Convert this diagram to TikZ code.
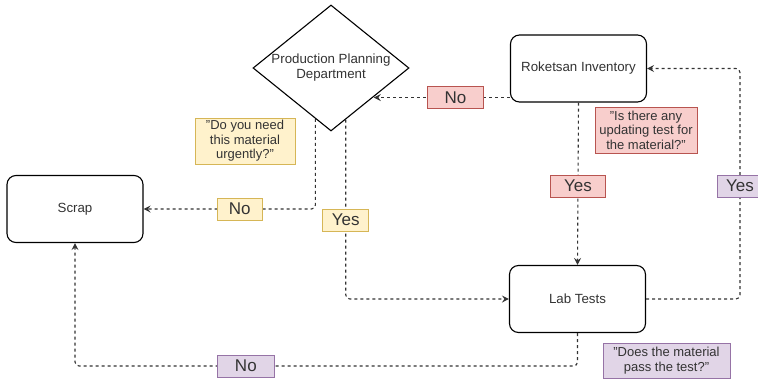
\documentclass[tikz,border=0pt]{standalone}
\usepackage{fontspec}
\setmainfont{Liberation Sans}
\usetikzlibrary{arrows.meta,shapes.geometric}

\definecolor{ink}{HTML}{333333}
\definecolor{yfill}{HTML}{FFF2CC}\definecolor{yline}{HTML}{D6B656}
\definecolor{rfill}{HTML}{F8CECC}\definecolor{rline}{HTML}{B85450}
\definecolor{pfill}{HTML}{E1D5E7}\definecolor{pline}{HTML}{9673A6}

\tikzset{
  box/.style={draw=black, line width=1.1pt, rounded corners=9pt,
    minimum width=136pt, minimum height=67pt, inner sep=0pt,
    font=\fontsize{13.3}{15}\selectfont, text=ink},
  decision/.style={diamond, draw=black, line width=1.1pt, aspect=1.24,
    minimum width=156pt, minimum height=126pt, inner sep=0pt, align=center,
    font=\fontsize{13.3}{15}\selectfont, text=ink},
  flow/.style={draw=ink, line width=1.1pt, dash pattern=on 3pt off 3pt,
    rounded corners=4pt, -{Stealth[length=7pt,width=7pt,inset=2.5pt]}},
  lab/.style={draw, solid, sharp corners, line width=0.7pt, minimum height=22pt,
    inner sep=0pt, font=\fontsize{17}{17}\selectfont, text=ink},
  ylab/.style={lab, fill=yfill, draw=yline},
  rlab/.style={lab, fill=rfill, draw=rline},
  plab/.style={lab, fill=pfill, draw=pline},
  note/.style={draw, line width=0.7pt, inner sep=0pt, align=center,
    font=\fontsize{13}{14.5}\selectfont, text=ink},
}

\begin{document}
\begin{tikzpicture}[x=1pt,y=-1pt]
\useasboundingbox[fill=white] (0,0) rectangle (758,378);

% process boxes and the decision diamond
\node[box] (rok) at (578.5,68.5) {Roketsan Inventory};
\node[box] (lab) at (577.5,299) {Lab Tests};
\node[box] (scrap) at (75,209) {Scrap};
\node[decision] (ppd) at (331,68) {Production Planning\\Department};

% question notes
\node[note, fill=yfill, draw=yline, minimum width=100pt, minimum height=46pt]
  (qurgent) at (245,141) {"Do you need\\this material\\urgently?"};
\node[note, fill=rfill, draw=rline, minimum width=102pt, minimum height=46pt]
  (qupdate) at (646,130) {"Is there any\\updating test for\\the material?"};
\node[note, fill=pfill, draw=pline, minimum width=127pt, minimum height=35pt]
  (qpass) at (666.5,360.5) {"Does the material\\pass the test?"};

% helper coordinates for the routed connectors
\coordinate (rokout) at ([yshift=5pt]rok.south west);
\coordinate (rx) at (740,0);
\coordinate (by) at (0,366);

% inventory -> planning (No)
\draw[flow] (rokout) -- node[pos=0.40, rlab, minimum width=56pt] (noR) {No}
  (rokout -| ppd.-34.6);

% planning -> scrap (No)
\draw[flow] (ppd.-107.7) |- node[pos=0.72, ylab, minimum width=45pt] (noY) {No}
  (scrap.east);

% planning -> lab tests (Yes)
\draw[flow] (ppd.-74.85) |- node[pos=0.28, ylab, minimum width=46pt] (yesY) {Yes}
  (lab.west);

% inventory -> lab tests (Yes)
\draw[flow] (rok.south) -- node[pos=0.515, rlab, minimum width=55pt] (yesR) {Yes}
  (lab.north);

% lab tests -> inventory (Yes)
\draw[flow] (lab.east) -- (lab.east -| rx)
  |- node[pos=0.245, plab, minimum width=45pt] (yesP) {Yes} (rok.east);

% lab tests -> scrap (No)
\draw[flow] (lab.south) |- node[pos=0.83, plab, minimum width=57pt] (noP) {No}
  (by -| scrap.south) -- (scrap.south);
\end{tikzpicture}
\end{document}
